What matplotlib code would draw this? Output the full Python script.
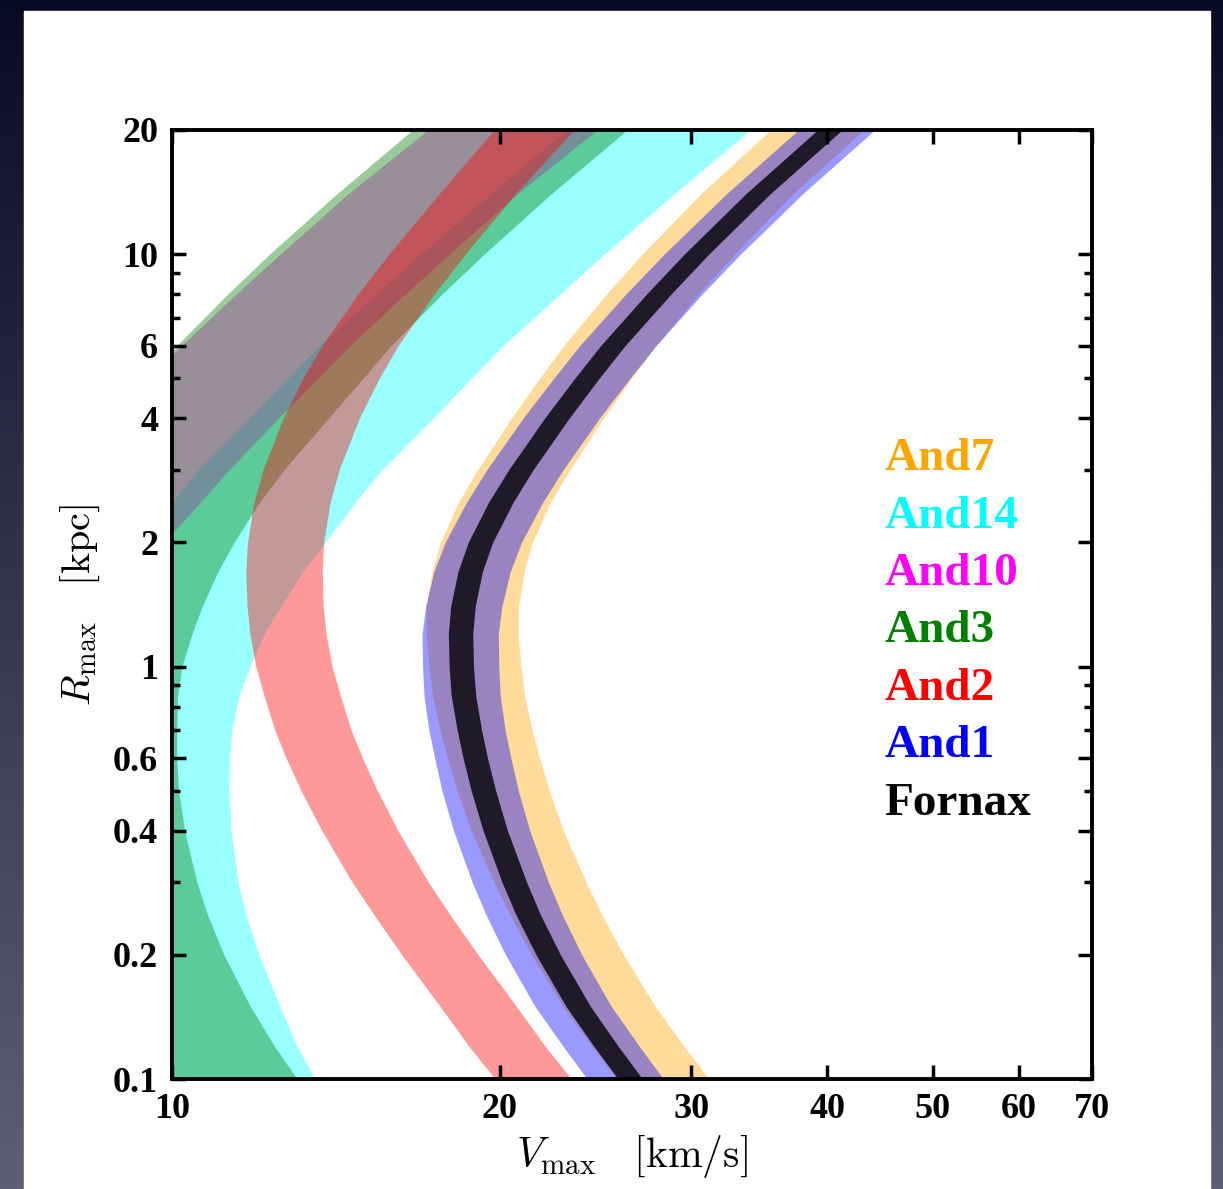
import matplotlib
matplotlib.use('Agg')
import matplotlib.pyplot as plt
import numpy as np
from matplotlib.patches import Rectangle
from matplotlib.ticker import FixedLocator, FixedFormatter, NullLocator

plt.rcParams['font.family'] = ['Liberation Serif', 'DejaVu Serif']
plt.rcParams['mathtext.fontset'] = 'cm'

rmax = [0.1, 0.12, 0.15, 0.2, 0.25, 0.3, 0.4, 0.5, 0.6, 0.7, 0.85, 1.0, 1.2,
        1.4, 1.7, 2.0, 2.5, 3.0, 4.0, 5.0, 6.0, 8.0, 10, 14, 20]

# Vmax (km/s) of the left and right edge of every band (values < 10 lie off the plot)
and7_lo = [25.63, 24.31, 22.87, 21.39, 20.44, 19.76, 18.83, 18.28, 17.91, 17.63, 17.35, 17.22, 17.12,
           17.13, 17.33, 17.64, 18.32, 19.09, 20.50, 21.76, 22.90, 25.06, 27.04, 30.60, 35.46]
and7_hi = [31.14, 29.54, 27.79, 25.99, 24.83, 24.01, 22.88, 22.21, 21.76, 21.42, 21.08, 20.92, 20.80,
           20.81, 21.06, 21.43, 22.26, 23.19, 24.91, 26.44, 27.82, 30.45, 32.85, 37.18, 43.20]

and14_lo = [9.17, 8.83, 8.52, 8.15, 7.93, 7.80, 7.68, 7.65, 7.65, 7.69, 7.81, 7.99, 8.24,
            8.54, 8.94, 9.37, 9.99, 10.57, 11.78, 12.77, 13.65, 15.40, 16.91, 19.61, 23.03]
and14_hi = [13.53, 13.03, 12.56, 12.02, 11.69, 11.50, 11.33, 11.28, 11.29, 11.35, 11.52, 11.79, 12.15,
            12.59, 13.19, 13.82, 14.73, 15.59, 17.37, 18.83, 20.14, 22.72, 24.94, 28.92, 33.97]

and10_lo = [6.71, 6.50, 6.29, 6.08, 5.94, 5.80, 5.66, 5.59, 5.59, 5.59, 5.66, 5.73, 5.87,
            6.08, 6.43, 6.87, 7.42, 7.89, 8.76, 9.52, 10.20, 11.45, 12.57, 14.51, 17.18]
and10_hi = [9.60, 9.30, 9.00, 8.70, 8.50, 8.30, 8.10, 8.00, 8.00, 8.00, 8.10, 8.20, 8.40,
            8.70, 9.20, 9.83, 10.61, 11.28, 12.52, 13.62, 14.58, 16.37, 17.97, 20.75, 24.57]

and3_lo = [8.28, 7.89, 7.50, 7.09, 6.85, 6.70, 6.52, 6.44, 6.42, 6.42, 6.43, 6.49, 6.63,
           6.77, 7.00, 7.24, 7.64, 8.05, 8.84, 9.52, 10.10, 11.25, 12.29, 14.17, 16.63]
and3_hi = [13.03, 12.42, 11.80, 11.16, 10.78, 10.54, 10.27, 10.14, 10.10, 10.10, 10.12, 10.21, 10.43,
           10.66, 11.02, 11.40, 12.03, 12.67, 13.92, 14.98, 15.89, 17.70, 19.35, 22.30, 26.18]

and2_lo = [19.81, 18.74, 17.63, 16.26, 15.33, 14.64, 13.73, 13.14, 12.73, 12.43, 12.15, 11.94, 11.79,
           11.72, 11.69, 11.73, 11.89, 12.12, 12.65, 13.19, 13.73, 14.82, 15.82, 17.59, 19.76]
and2_hi = [23.28, 22.02, 20.72, 19.11, 18.01, 17.20, 16.13, 15.44, 14.96, 14.61, 14.28, 14.03, 13.85,
           13.77, 13.74, 13.78, 13.97, 14.24, 14.86, 15.50, 16.13, 17.41, 18.59, 20.67, 23.40]

and1_lo = [24.06, 22.87, 21.55, 20.25, 19.43, 18.87, 18.14, 17.70, 17.43, 17.22, 17.04, 16.99, 16.97,
           17.10, 17.40, 17.82, 18.64, 19.46, 21.01, 22.42, 23.69, 26.11, 28.32, 32.30, 37.61]
and1_hi = [28.27, 26.87, 25.32, 23.79, 22.83, 22.17, 21.31, 20.80, 20.48, 20.23, 20.02, 19.96, 19.94,
           20.09, 20.45, 20.94, 21.90, 22.87, 24.69, 26.34, 27.84, 30.68, 33.28, 37.95, 44.19]

fornax_lo = [25.69, 24.41, 23.01, 21.60, 20.70, 20.10, 19.31, 18.83, 18.51, 18.28, 18.05, 17.97, 17.94,
             18.03, 18.31, 18.71, 19.53, 20.38, 21.99, 23.44, 24.76, 27.28, 29.55, 33.65, 39.17]
fornax_hi = [27.05, 25.70, 24.23, 22.74, 21.80, 21.17, 20.33, 19.83, 19.49, 19.25, 19.01, 18.92, 18.89,
             18.99, 19.28, 19.70, 20.57, 21.46, 23.16, 24.68, 26.07, 28.73, 31.12, 35.43, 41.25]

names = ['And7', 'And14', 'And10', 'And3', 'And2', 'And1', 'Fornax']
colors = ['orange', 'cyan', 'magenta', 'green', 'red', 'blue', 'black']
lows = [and7_lo, and14_lo, and10_lo, and3_lo, and2_lo, and1_lo, fornax_lo]
highs = [and7_hi, and14_hi, and10_hi, and3_hi, and2_hi, and1_hi, fornax_hi]
alphas = [0.4, 0.4, 0.4, 0.4, 0.4, 0.4, 0.8]

xticks = [10, 20, 30, 40, 50, 60, 70]
yticks = [0.1, 0.2, 0.4, 0.6, 1, 2, 4, 6, 10, 20]
yticklabels = ['0.1', '0.2', '0.4', '0.6', '1', '2', '4', '6', '10', '20']
yminor = [0.3, 0.5, 0.7, 0.8, 0.9, 3, 5, 7, 8, 9]

W, H = 1223, 1189
fig = plt.figure(figsize=(W / 100, H / 100), dpi=100)

# dark slide background with the white card on it
bg = fig.add_axes([0, 0, 1, 1], zorder=-10)
grad = np.linspace(0, 1, 256)[:, None, None]
top_c = np.array([10, 10, 36]) / 255
bot_c = np.array([95, 95, 115]) / 255
bg.imshow(top_c + (bot_c - top_c) * grad, aspect='auto', extent=[0, 1, 0, 1], origin='upper')
bg.add_patch(Rectangle((24 / W, 0), (1210 - 24) / W, (H - 11) / H, color='white'))
bg.set_xlim(0, 1)
bg.set_ylim(0, 1)
bg.axis('off')

ax = fig.add_axes([172 / W, 1 - 1079 / H, 920 / W, 949 / H])
ax.set_xscale('log')
ax.set_yscale('log')

for lo, hi, c, a in zip(lows, highs, colors, alphas):
    ax.fill_betweenx(rmax, lo, hi, color=c, alpha=a, linewidth=0)

ax.set_xlim(10, 70)
ax.set_ylim(0.1, 20)

ax.xaxis.set_major_locator(FixedLocator(xticks))
ax.xaxis.set_major_formatter(FixedFormatter([str(t) for t in xticks]))
ax.xaxis.set_minor_locator(NullLocator())
ax.yaxis.set_major_locator(FixedLocator(yticks))
ax.yaxis.set_major_formatter(FixedFormatter(yticklabels))
ax.yaxis.set_minor_locator(FixedLocator(yminor))
ax.yaxis.set_minor_formatter(FixedFormatter([''] * len(yminor)))

ax.tick_params(which='both', direction='in', top=True, right=True, width=2.5)
ax.tick_params(which='major', length=10, labelsize=26, pad=10)
ax.tick_params(which='minor', length=6)
for lab in ax.get_xticklabels() + ax.get_yticklabels():
    lab.set_fontweight('bold')
for sp in ax.spines.values():
    sp.set_linewidth(2.8)

ax.set_xlabel(r'$V_{\rm max}\quad[{\rm km/s}]$', fontsize=30, labelpad=5)
ax.set_ylabel(r'$R_{\rm max}\quad[{\rm kpc}]$', fontsize=29, labelpad=8)

# coloured names instead of a legend box
ybase = [0.6417, 0.5811, 0.5205, 0.4600, 0.3994, 0.3388, 0.2782]
for name, c, yb in zip(names, colors, ybase):
    ax.text(0.774, yb, name, color=c, fontsize=34, fontweight='bold',
            transform=ax.transAxes, va='baseline', ha='left')

fig.savefig('out.png', dpi=100)
